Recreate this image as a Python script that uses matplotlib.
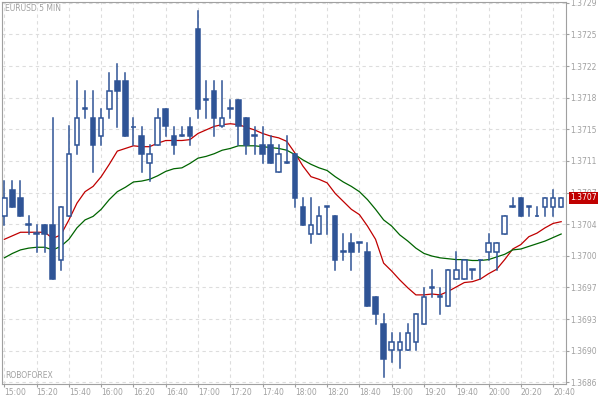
import numpy as np
import matplotlib.pyplot as plt
from matplotlib.patches import Rectangle

# 5 min candles, 15:00 .. 20:45
opens = [1.37048, 1.37078, 1.37069, 1.37038, 1.37028, 1.37038, 1.37038, 1.36998, 1.37048, 1.37129,
         1.37170, 1.37159, 1.37139, 1.37170, 1.37201, 1.37201, 1.37149, 1.37139, 1.37109, 1.37129,
         1.37170, 1.37139, 1.37139, 1.37149, 1.37260, 1.37180, 1.37190, 1.37150, 1.37170, 1.37180,
         1.37159, 1.37139, 1.37129, 1.37129, 1.37098, 1.37109, 1.37119, 1.37059, 1.37028, 1.37028,
         1.37059, 1.37048, 1.37008, 1.37018, 1.37018, 1.37008, 1.36957, 1.36926, 1.36896, 1.36896,
         1.36896, 1.36906, 1.36926, 1.36967, 1.36957, 1.36946, 1.36977, 1.36977, 1.36987, 1.36998,
         1.37008, 1.37008, 1.37028, 1.37059, 1.37069, 1.37059, 1.37048, 1.37059, 1.37059, 1.37059]
highs = [1.37088, 1.37088, 1.37088, 1.37048, 1.37038, 1.37038, 1.37159, 1.37059, 1.37150, 1.37201,
         1.37190, 1.37190, 1.37170, 1.37211, 1.37221, 1.37211, 1.37159, 1.37149, 1.37129, 1.37170,
         1.37170, 1.37149, 1.37149, 1.37159, 1.37281, 1.37201, 1.37201, 1.37201, 1.37180, 1.37180,
         1.37159, 1.37149, 1.37149, 1.37139, 1.37129, 1.37139, 1.37119, 1.37069, 1.37069, 1.37059,
         1.37059, 1.37048, 1.37028, 1.37028, 1.37018, 1.37018, 1.36957, 1.36937, 1.36916, 1.36916,
         1.36926, 1.36937, 1.36967, 1.36987, 1.36967, 1.36987, 1.37008, 1.36998, 1.36987, 1.36998,
         1.37028, 1.37018, 1.37048, 1.37069, 1.37069, 1.37059, 1.37059, 1.37069, 1.37078, 1.37069]
lows = [1.37038, 1.37059, 1.37048, 1.37028, 1.37008, 1.37008, 1.36977, 1.36987, 1.37048, 1.37119,
        1.37159, 1.37098, 1.37129, 1.37159, 1.37149, 1.37139, 1.37129, 1.37098, 1.37088, 1.37129,
        1.37139, 1.37119, 1.37139, 1.37129, 1.37159, 1.37159, 1.37139, 1.37149, 1.37159, 1.37129,
        1.37119, 1.37119, 1.37109, 1.37109, 1.37098, 1.37109, 1.37059, 1.37038, 1.37018, 1.37028,
        1.37028, 1.36987, 1.36998, 1.36987, 1.37008, 1.36946, 1.36926, 1.36866, 1.36883, 1.36876,
        1.36896, 1.36896, 1.36926, 1.36957, 1.36937, 1.36946, 1.36977, 1.36977, 1.36977, 1.36977,
        1.36998, 1.36987, 1.37028, 1.37059, 1.37048, 1.37048, 1.37048, 1.37048, 1.37048, 1.37059]
closes = [1.37069, 1.37059, 1.37048, 1.37038, 1.37028, 1.37028, 1.36977, 1.37059, 1.37119, 1.37159,
          1.37170, 1.37129, 1.37159, 1.37190, 1.37190, 1.37139, 1.37149, 1.37119, 1.37119, 1.37159,
          1.37150, 1.37129, 1.37139, 1.37139, 1.37170, 1.37180, 1.37159, 1.37159, 1.37170, 1.37150,
          1.37129, 1.37139, 1.37119, 1.37109, 1.37119, 1.37109, 1.37069, 1.37038, 1.37038, 1.37048,
          1.37059, 1.36998, 1.37008, 1.37008, 1.37018, 1.36946, 1.36937, 1.36886, 1.36906, 1.36906,
          1.36916, 1.36937, 1.36957, 1.36967, 1.36957, 1.36987, 1.36987, 1.36998, 1.36987, 1.36998,
          1.37018, 1.37018, 1.37048, 1.37059, 1.37048, 1.37059, 1.37048, 1.37069, 1.37069, 1.37069]

ma_fast = [1.37022, 1.37026, 1.37030, 1.37030, 1.37030, 1.37030, 1.37023, 1.37027, 1.37044, 1.37063,
           1.37076, 1.37082, 1.37093, 1.37107, 1.37122, 1.37125, 1.37128, 1.37127, 1.37127, 1.37131,
           1.37134, 1.37134, 1.37134, 1.37135, 1.37142, 1.37146, 1.37150, 1.37152, 1.37153, 1.37152,
           1.37149, 1.37146, 1.37142, 1.37139, 1.37137, 1.37133, 1.37120, 1.37105, 1.37093, 1.37090,
           1.37086, 1.37074, 1.37065, 1.37056, 1.37050, 1.37037, 1.37022, 1.36995, 1.36986, 1.36976,
           1.36967, 1.36959, 1.36959, 1.36960, 1.36959, 1.36963, 1.36968, 1.36973, 1.36974, 1.36977,
           1.36983, 1.36988, 1.36999, 1.37011, 1.37016, 1.37025, 1.37029, 1.37035, 1.37040, 1.37042]
ma_slow = [1.37001, 1.37006, 1.37010, 1.37012, 1.37013, 1.37013, 1.37010, 1.37014, 1.37022, 1.37035,
           1.37044, 1.37048, 1.37056, 1.37067, 1.37076, 1.37081, 1.37087, 1.37088, 1.37090, 1.37094,
           1.37099, 1.37102, 1.37103, 1.37108, 1.37114, 1.37116, 1.37119, 1.37123, 1.37125, 1.37128,
           1.37128, 1.37128, 1.37127, 1.37126, 1.37125, 1.37123, 1.37118, 1.37112, 1.37107, 1.37103,
           1.37100, 1.37093, 1.37087, 1.37082, 1.37076, 1.37067, 1.37056, 1.37044, 1.37037, 1.37027,
           1.37020, 1.37012, 1.37006, 1.37003, 1.37001, 1.37000, 1.36999, 1.36999, 1.36998, 1.36998,
           1.36999, 1.37002, 1.37005, 1.37010, 1.37011, 1.37014, 1.37017, 1.37020, 1.37024, 1.37028]

time_labels = ['15:00', '15:20', '15:40', '16:00', '16:20', '16:40', '17:00', '17:20', '17:40',
               '18:00', '18:20', '18:40', '19:00', '19:20', '19:40', '20:00', '20:20', '20:40']
price_labels = ['1.3729', '1.3725', '1.3722', '1.3718', '1.3715', '1.3711', '1.3707',
                '1.3704', '1.3700', '1.3697', '1.3693', '1.3690', '1.3686']
last_price = 1.37069

blue = '#2f5496'
gray = '#a0a0a0'

fig = plt.figure(figsize=(6, 4), dpi=100)
ax = fig.add_axes([2/600, 16/400, 564/600, 382/400])

for i in range(len(opens)):
    o, h, l, c = opens[i], highs[i], lows[i], closes[i]
    ax.plot([i, i], [l, h], color=blue, lw=1.1, zorder=3)
    bottom = min(o, c)
    height = max(abs(c - o), 0.000008)
    face = 'white' if c > o else blue
    ax.add_patch(Rectangle((i - 0.28, bottom), 0.56, height, facecolor=face,
                           edgecolor=blue, lw=1.1, zorder=4))

x = np.arange(len(ma_fast))
ax.plot(x, ma_fast, color='#c00000', lw=0.9, zorder=2)
ax.plot(x, ma_slow, color='#006400', lw=0.9, zorder=2)

ax.set_xlim(-0.29, 69.6)
ax.set_ylim(1.36858, 1.37291)

ax.set_xticks(np.arange(0, 4 * len(time_labels), 4))
ax.set_xticklabels(time_labels, ha='left')
yt = np.linspace(1.3729, 1.3686, len(price_labels))
ax.set_yticks(yt)
ax.set_yticklabels(price_labels)
ax.yaxis.tick_right()
ax.tick_params(colors=gray, labelcolor=gray, labelsize=5.5, length=2, pad=1)
ax.grid(True, color='#dddddd', linestyle=(0, (3, 3)), lw=0.8)
for s in ax.spines.values():
    s.set_color(gray)

ax.text(0.005, 0.995, 'EURUSD 5 MIN', transform=ax.transAxes, fontsize=5.5,
        color=gray, va='top', ha='left')
ax.text(0.005, 0.01, 'ROBOFOREX', transform=ax.transAxes, fontsize=5.5,
        color=gray, va='bottom', ha='left')
ax.annotate('1.3707', xy=(1.0, last_price), xycoords=('axes fraction', 'data'),
            xytext=(3, 0), textcoords='offset points', fontsize=5.5, color='white',
            va='center', ha='left',
            bbox=dict(boxstyle='square,pad=0.2', fc='#c00000', ec='none'))

fig.savefig('out.png', dpi=100)
